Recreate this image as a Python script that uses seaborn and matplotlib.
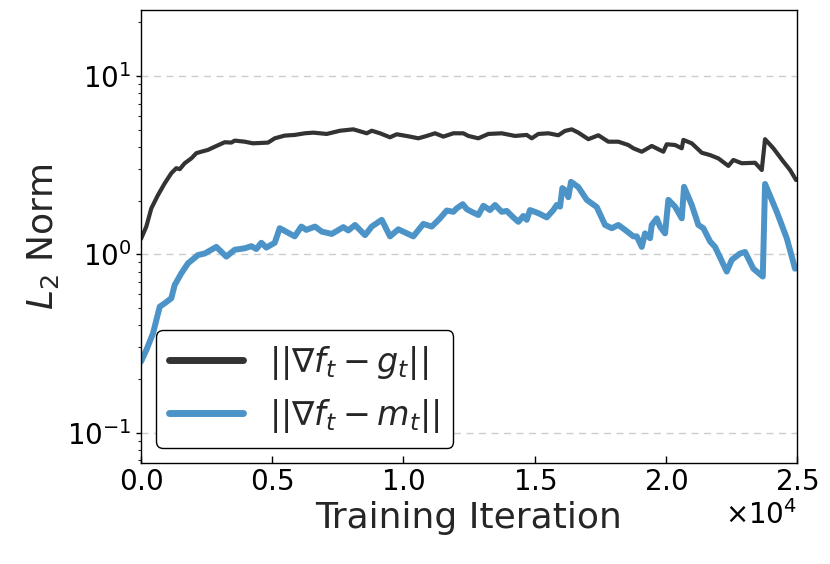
import numpy as np
import pandas as pd
import matplotlib
matplotlib.use("Agg")
import matplotlib.pyplot as plt
import seaborn as sns

# ---- data ----
iter_g = [0, 202, 393, 648, 903, 1155, 1345, 1475, 1665, 1917, 2108, 2298, 2553, 2809,
          3190, 3441, 3571, 3952, 4268, 4840, 5095, 5476, 5858, 6239, 6566, 7077, 7584,
          8091, 8602, 8792, 9108, 9489, 9745, 10252, 10568, 10888, 11204, 11521, 11902,
          12283, 12474, 12855, 13236, 13746, 14253, 14699, 14890, 15141, 15522, 15903,
          16159, 16414, 16666, 17047, 17428, 17809, 18190, 18571, 18762, 19082, 19463,
          19905, 20035, 20351, 20607, 20668, 20988, 21369, 21685, 22001, 22383, 22573,
          22893, 23400, 23655, 23781, 24097, 24478, 24733, 24962]
norm_g = [1.22, 1.43, 1.81, 2.15, 2.50, 2.85, 3.04, 3.00, 3.24, 3.45, 3.69, 3.76, 3.85, 4.01,
          4.25, 4.23, 4.34, 4.28, 4.19, 4.23, 4.47, 4.63, 4.67, 4.77, 4.81, 4.73, 4.93,
          5.02, 4.77, 4.93, 4.77, 4.53, 4.71, 4.57, 4.47, 4.61, 4.77, 4.57, 4.77,
          4.77, 4.61, 4.47, 4.73, 4.77, 4.61, 4.67, 4.47, 4.73, 4.77, 4.65,
          4.92, 5.02, 4.81, 4.42, 4.65, 4.28, 4.28, 4.10, 3.93, 3.76, 4.05,
          3.76, 4.14, 4.10, 3.93, 4.38, 4.19, 3.71, 3.60, 3.45, 3.13, 3.38,
          3.24, 3.26, 2.97, 4.42, 3.93, 3.31, 2.97, 2.61]

iter_m = [0, 202, 457, 713, 903, 1155, 1284, 1536, 1791, 2172, 2427, 2869, 3251, 3571,
          3952, 4204, 4394, 4585, 4775, 5095, 5286, 5858, 6109, 6300, 6631, 6887, 7268,
          7710, 7900, 8156, 8537, 8792, 9173, 9489, 9806, 10377, 10759, 11079, 11395,
          11650, 11902, 12031, 12260, 12413, 12603, 12855, 13045, 13300, 13491, 13746,
          13937, 14188, 14379, 14569, 14699, 14825, 15141, 15461, 15713, 15842, 15968,
          16056, 16159, 16284, 16387, 16666, 16986, 17367, 17683, 17939, 18190, 18446,
          18762, 18891, 19082, 19207, 19398, 19463, 19653, 19779, 19970, 20096, 20351,
          20607, 20694, 20988, 21239, 21430, 21685, 21875, 22321, 22512, 22828, 23019,
          23336, 23694, 23781, 24227, 24608, 24924]
norm_m = [0.25, 0.29, 0.36, 0.508, 0.531, 0.567, 0.673, 0.782, 0.89, 0.99, 1.01, 1.10, 0.97, 1.06,
          1.08, 1.11, 1.07, 1.16, 1.09, 1.16, 1.40, 1.26, 1.43, 1.37, 1.43, 1.34, 1.30,
          1.42, 1.36, 1.46, 1.28, 1.43, 1.56, 1.26, 1.38, 1.26, 1.48, 1.43, 1.59,
          1.76, 1.73, 1.81, 1.91, 1.79, 1.73, 1.66, 1.87, 1.77, 1.89, 1.73,
          1.75, 1.61, 1.52, 1.64, 1.56, 1.77, 1.70, 1.61, 1.77, 1.89, 1.85,
          2.35, 2.29, 2.09, 2.55, 2.38, 2.02, 1.84, 1.46, 1.40, 1.46, 1.37,
          1.26, 1.26, 1.10, 1.31, 1.23, 1.46, 1.59, 1.43, 1.31, 2.02, 1.85,
          1.59, 2.39, 1.89, 1.46, 1.40, 1.18, 1.10, 0.80, 0.93, 1.01, 1.03,
          0.83, 0.75, 2.48, 1.73, 1.23, 0.83]

labels = [r'$||\nabla f_t - g_t||$', r'$||\nabla f_t - m_t||$']
colors = ['#333333', '#4C94C8']

df = pd.concat([
    pd.DataFrame({'iter': iter_g, 'norm': norm_g, 'series': labels[0]}),
    pd.DataFrame({'iter': iter_m, 'norm': norm_m, 'series': labels[1]}),
], ignore_index=True)

sns.set_style("white")
plt.rcParams['font.family'] = ['DejaVu Sans']
plt.rcParams['mathtext.fontset'] = 'dejavusans'

fig = plt.figure(figsize=(8.3, 5.64), dpi=100)
ax = fig.add_axes([0.1699, 0.1791, 0.7904, 0.8032])

sns.lineplot(data=df[df.series == labels[0]], x='iter', y='norm', color=colors[0],
             linewidth=3.0, label=labels[0], ax=ax, estimator=None, sort=False)
sns.lineplot(data=df[df.series == labels[1]], x='iter', y='norm', color=colors[1],
             linewidth=4.3, label=labels[1], ax=ax, estimator=None, sort=False)

ax.set_yscale('log')
ax.set_ylim(0.0675, 23.45)
ax.set_xlim(0, 25000)
ax.set_xticks([0, 5000, 10000, 15000, 20000, 25000])
ax.ticklabel_format(axis='x', style='sci', scilimits=(0, 0), useMathText=True)
ax.xaxis.get_offset_text().set_fontsize(20)

ax.yaxis.grid(True, which='major', linestyle=(0, (5, 4)), color='#cccccc', linewidth=1.0)
ax.xaxis.grid(False)

for s in ax.spines.values():
    s.set_visible(True)
    s.set_color('black')
    s.set_linewidth(1.0)

ax.tick_params(axis='x', which='major', direction='in', length=5, width=1,
               labelsize=20, colors='black', bottom=True, top=False)
ax.tick_params(axis='y', which='major', direction='out', length=3.5, width=1,
               labelsize=20, colors='black', left=True, right=False)
ax.tick_params(axis='y', which='minor', direction='out', length=2, width=0.8,
               left=True, right=False)

ax.set_xlabel('Training Iteration', fontsize=26)
ax.set_ylabel(r'$L_2$ Norm', fontsize=26)

leg = ax.legend(loc='lower left', fontsize=24, frameon=True, fancybox=True,
                edgecolor='black', framealpha=1.0, handlelength=2.2,
                borderaxespad=0.45, labelspacing=0.45)
leg.get_frame().set_linewidth(1.0)
for ln in leg.get_lines():
    ln.set_linewidth(5)

fig.savefig('out.png', dpi=100)
